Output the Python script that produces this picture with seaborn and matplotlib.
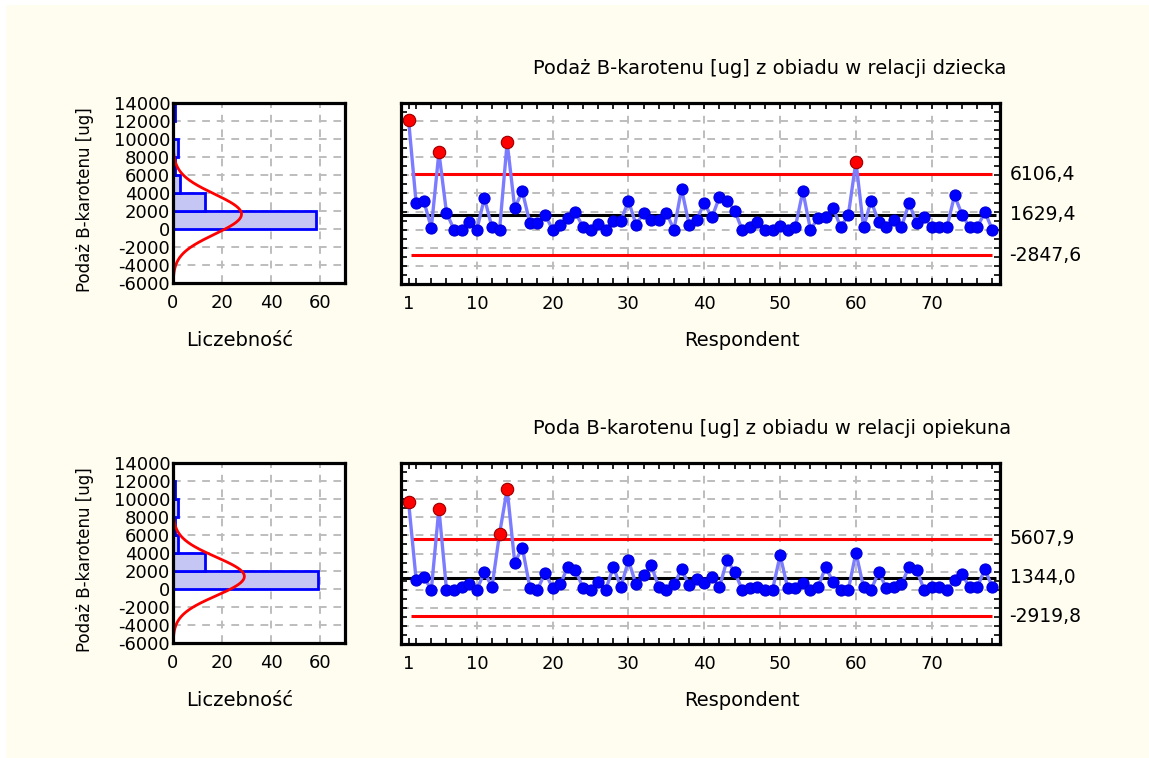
import numpy as np
import pandas as pd
import seaborn as sns
import matplotlib
matplotlib.use("Agg")
import matplotlib.pyplot as plt
from matplotlib.ticker import MultipleLocator
from matplotlib.patches import Rectangle
import matplotlib.transforms as mtransforms

# ---------------- data ----------------
respondents = list(range(1, 79))

child_values = [12100, 2900, 3200, 200, 8550, 1870, 0, 0, 840, 0,
                3490, 260, 0, 9650, 2390, 4260, 730, 730, 1650, 0,
                550, 1290, 1950, 260, 0, 620, 0, 990, 990, 3190,
                550, 1870, 1100, 1100, 1870, 0, 4510, 550, 1100, 2940,
                1360, 3600, 3190, 2100, 0, 260, 840, 0, 0, 370,
                0, 260, 4260, 0, 1290, 1360, 2390, 260, 1650, 7520,
                260, 3190, 840, 260, 1060, 260, 2940, 730, 1360, 260,
                260, 260, 3780, 1650, 260, 260, 1950, 0]

parent_values = [9710, 1060, 1430, 0, 8970, 0, 0, 320, 650, 0,
                 1950, 290, 6200, 11120, 2980, 4650, 210, 0, 1880, 210,
                 580, 2540, 2170, 210, 0, 840, 0, 2500, 290, 3240,
                 580, 1620, 2690, 290, 0, 580, 2240, 510, 1140, 770,
                 1430, 290, 3280, 1950, 0, 210, 320, 0, 0, 3790,
                 210, 210, 690, 0, 290, 2500, 840, 0, 0, 4090,
                 290, 0, 1950, 210, 320, 580, 2540, 2170, 0, 290,
                 290, 0, 1060, 1690, 290, 290, 2240, 290]

child_limits = [6106.4, 1629.4, -2847.6]          # UCL, CL, LCL
child_limit_labels = ["6106,4", "1629,4", "-2847,6"]
parent_limits = [5607.9, 1344.0, -2919.8]
parent_limit_labels = ["5607,9", "1344,0", "-2919,8"]

titles = ["Podaż B-karotenu [ug] z obiadu w relacji dziecka",
          "Poda B-karotenu [ug] z obiadu w relacji opiekuna"]
y_label = "Podaż B-karotenu [ug]"
hist_xlabel = "Liczebność"
ctrl_xlabel = "Respondent"
hist_xticks = [0, 20, 40, 60]
ctrl_xticks = [1, 10, 20, 30, 40, 50, 60, 70]
y_ticks = list(range(-6000, 14001, 2000))

# ---------------- style ----------------
sns.set_style("white")
plt.rcParams["font.family"] = ["DejaVu Sans"]
plt.rcParams["axes.unicode_minus"] = False
for k in ["text.color", "axes.labelcolor", "xtick.color", "ytick.color"]:
    plt.rcParams[k] = "black"

W, H = 1149, 758
fig = plt.figure(figsize=(W / 100, H / 100), dpi=100, facecolor="white")
fig.patches.append(Rectangle((6 / W, 0), 1 - 6 / W, 1 - 5 / H, transform=fig.transFigure,
                             facecolor="#FFFDF0", edgecolor="none", zorder=-10))

GRID = dict(color="#BDBDBD", linestyle=(0, (4, 3.5)), linewidth=1.4)


def px_rect(left, top, right, bottom):
    return [left / W, 1 - bottom / H, (right - left) / W, (bottom - top) / H]


def style_spines(ax):
    for s in ax.spines.values():
        s.set_visible(True)
        s.set_color("black")
        s.set_linewidth(2.3)
        s.set_zorder(8)


def panel(values, limits, limit_labels, title, dy):
    vals = np.asarray(values, dtype=float)
    n = len(vals)

    # ---- histogram ----
    axh = fig.add_axes(px_rect(173, 103 + dy, 345, 283 + dy))
    axh.set_facecolor("white")
    sns.histplot(y=vals, binwidth=2000, binrange=(0, 14000), ax=axh,
                 color="#C6C6F4", edgecolor="#0000FF", linewidth=2.0, alpha=1.0, zorder=2)
    yy = np.linspace(-6000, 14000, 500)
    mu, sd = vals.mean(), vals.std(ddof=1)
    xx = n * 2000 * np.exp(-0.5 * ((yy - mu) / sd) ** 2) / (sd * np.sqrt(2 * np.pi))
    axh.plot(xx, yy, color="#FF0000", lw=2.0, zorder=3)
    axh.set_xlim(0, 70)
    axh.set_ylim(-6000, 14000)
    axh.set_xticks(hist_xticks)
    axh.set_yticks(y_ticks)
    axh.set_yticklabels([str(t) for t in y_ticks])
    axh.set_xlabel("")
    axh.set_ylabel("")
    axh.grid(True, **GRID)
    axh.set_axisbelow(True)
    axh.tick_params(which="both", direction="in", length=4, width=1.2,
                    labelsize=13, pad=2)
    axh.tick_params(axis="x", pad=8)
    style_spines(axh)

    # ---- control chart ----
    axc = fig.add_axes(px_rect(401, 103 + dy, 1000, 284 + dy))
    axc.set_facecolor("white")
    df = pd.DataFrame({"Respondent": respondents, "value": vals})
    sns.lineplot(data=df, x="Respondent", y="value", ax=axc, color="#7C7CFF",
                 lw=2.4, marker="o", markersize=8, markerfacecolor="#0000FF",
                 markeredgecolor="#0000D8", markeredgewidth=0.8, zorder=4)
    ucl, cl, lcl = limits
    out = df[df["value"] > ucl]
    sns.scatterplot(data=out, x="Respondent", y="value", ax=axc, color="#FF0000",
                    s=80, edgecolor="#A00000", linewidth=0.8, zorder=6)
    axc.hlines(cl, 0, 78.5, color="black", lw=2.2, zorder=3)
    axc.hlines([ucl, lcl], 1.3, 78, color="#FF0000", lw=2.2, zorder=3)
    axc.set_xlim(0, 79)
    axc.set_ylim(-6000, 14000)
    axc.set_xticks(ctrl_xticks)
    axc.set_yticks(y_ticks)
    axc.xaxis.set_minor_locator(MultipleLocator(2))
    axc.yaxis.set_minor_locator(MultipleLocator(1000))
    axc.grid(True, which="major", **GRID)
    axc.get_xgridlines()[0].set_visible(False)
    axc.set_axisbelow(True)
    axc.tick_params(which="both", direction="in", top=True, right=True, left=True,
                    bottom=True, length=4, width=1.2, labelleft=False, labelsize=13)
    axc.tick_params(axis="x", pad=8)
    axc.set_xlabel("")
    axc.set_ylabel("")
    style_spines(axc)

    trans = mtransforms.blended_transform_factory(axc.transAxes, axc.transData)
    for v, lab in zip(limits, limit_labels):
        axc.text(1.016, v, lab, transform=trans, ha="left", va="center", fontsize=13.5)

    # ---- texts ----
    fig.text(533 / W, 1 - (74 + dy) / H, title, ha="left", va="baseline", fontsize=14)
    fig.text(240 / W, 1 - (346 + dy) / H, hist_xlabel, ha="center", va="baseline", fontsize=14)
    fig.text(742 / W, 1 - (346 + dy) / H, ctrl_xlabel, ha="center", va="baseline", fontsize=14)
    fig.text(85 / W, 1 - (200 + dy) / H, y_label, rotation=90, ha="center", va="center",
             fontsize=12)


panel(child_values, child_limits, child_limit_labels, titles[0], 0)
panel(parent_values, parent_limits, parent_limit_labels, titles[1], 360)

fig.savefig("out.png", dpi=100, facecolor=fig.get_facecolor())
